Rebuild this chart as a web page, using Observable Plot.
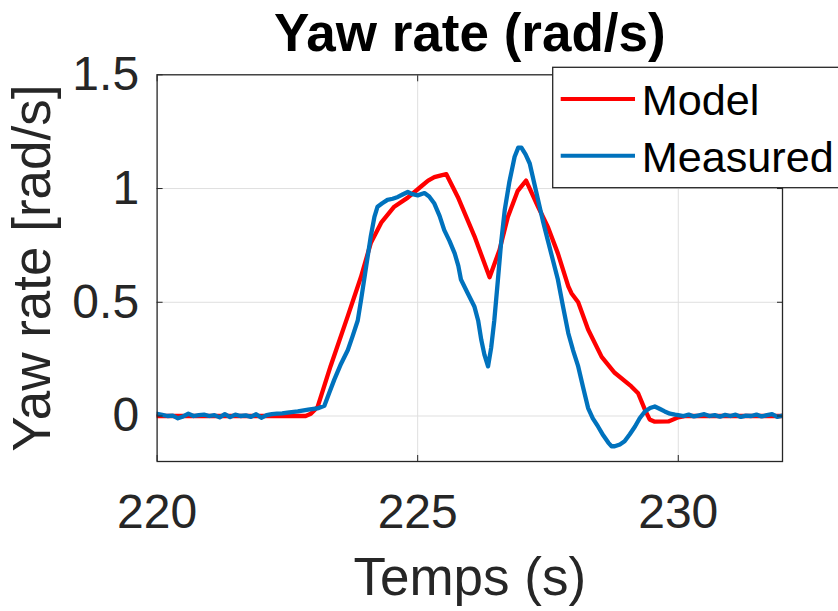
<!DOCTYPE html>
<html><head><meta charset="utf-8">
<script src="https://cdn.jsdelivr.net/npm/d3@7"></script>
<script src="https://cdn.jsdelivr.net/npm/@observablehq/plot@0.6"></script>
<style>
html,body{margin:0;padding:0;background:#fff;}
#wrap{position:relative;width:838px;height:611px;overflow:hidden;}
#wrap svg.overlay{position:absolute;left:0;top:0;pointer-events:none;}
</style></head><body><div id="wrap"></div>
<script>
// ---- data ----
const titleText = "Yaw rate (rad/s)";
const xLabel = "Temps (s)";
const yLabel = "Yaw rate [rad/s]";
const xDomain = [220, 232];
const yDomain = [-0.2, 1.5];
const xTicks = [220, 225, 230];
const xTickLabels = ["220", "225", "230"];
const yTicks = [0, 0.5, 1, 1.5];
const yTickLabels = ["0", "0.5", "1", "1.5"];
const seriesNames = ["Model", "Measured"];
const seriesColors = ["#ff0000", "#0072bd"];

const modelT = [220, 222.85, 222.95, 223.08, 223.33, 223.66, 223.91, 224.10, 224.30, 224.55, 224.81, 225.07, 225.2, 225.32, 225.45, 225.55, 225.77, 226.09, 226.38, 226.57, 226.73, 226.92, 227.08, 227.31, 227.50, 227.69, 227.89, 227.95, 228.08, 228.27, 228.53, 228.78, 229.10, 229.23, 229.36, 229.45, 229.55, 229.81, 230.0, 230.15, 232];
const modelV = [0, 0, 0.01, 0.04, 0.22, 0.44, 0.61, 0.76, 0.85, 0.92, 0.96, 1.01, 1.035, 1.05, 1.058, 1.063, 0.963, 0.79, 0.61, 0.73, 0.875, 0.99, 1.035, 0.92, 0.83, 0.715, 0.57, 0.54, 0.50, 0.38, 0.26, 0.19, 0.13, 0.10, 0.028, -0.015, -0.025, -0.024, -0.006, 0, 0];

const measuredT = [220.0, 220.1, 220.2, 220.3, 220.4, 220.5, 220.6, 220.7, 220.8, 220.9, 221.0, 221.1, 221.2, 221.3, 221.4, 221.5, 221.6, 221.7, 221.8, 221.9, 222.0, 222.1, 222.2, 222.3, 222.4, 222.5,
  222.7, 222.9, 223.1, 223.21, 223.30, 223.40, 223.53, 223.66, 223.75, 223.85, 223.92, 223.98, 224.04, 224.10, 224.17, 224.23, 224.32, 224.42, 224.52, 224.62, 224.72, 224.81, 224.9, 225.0, 225.13, 225.22, 225.32, 225.42, 225.51, 225.61, 225.71, 225.78, 225.83, 225.96, 226.09, 226.16, 226.22, 226.28, 226.35, 226.41, 226.47, 226.54, 226.60, 226.67, 226.76, 226.86, 226.93, 226.99, 227.07, 227.15, 227.23, 227.31, 227.40, 227.50, 227.60, 227.69, 227.79, 227.89, 227.98, 228.08, 228.17, 228.27, 228.36, 228.46, 228.56, 228.66, 228.72, 228.78, 228.88, 228.97, 229.07, 229.17, 229.26, 229.36, 229.46, 229.55, 229.64, 229.74, 229.84, 229.94,
  230.0, 230.1, 230.2, 230.3, 230.4, 230.5, 230.6, 230.7, 230.8, 230.9, 231.0, 231.1, 231.2, 231.3, 231.4, 231.5, 231.6, 231.7, 231.8, 231.9, 232.0];
const measuredV = [0.01, 0.005, 0.0, 0.002, -0.01, -0.002, 0.01, 0.0, 0.004, 0.006, 0.0, 0.004, -0.006, 0.008, -0.005, 0.006, 0.0, 0.003, -0.004, 0.008, -0.008, 0.004, 0.008, 0.01, 0.012, 0.015,
  0.02, 0.028, 0.035, 0.045, 0.10, 0.16, 0.23, 0.29, 0.35, 0.42, 0.52, 0.61, 0.70, 0.79, 0.875, 0.92, 0.935, 0.95, 0.955, 0.963, 0.975, 0.985, 0.975, 0.97, 0.98, 0.965, 0.934, 0.88, 0.817, 0.77, 0.715, 0.66, 0.60, 0.54, 0.48, 0.42, 0.335, 0.27, 0.218, 0.30, 0.42, 0.60, 0.76, 0.905, 1.03, 1.14, 1.18, 1.18, 1.15, 1.11, 1.03, 0.95, 0.86, 0.77, 0.68, 0.60, 0.48, 0.364, 0.29, 0.218, 0.13, 0.035, -0.01, -0.046, -0.085, -0.118, -0.133, -0.133, -0.125, -0.111, -0.08, -0.046, -0.01, 0.02, 0.035, 0.042, 0.032, 0.02, 0.01, 0.006,
  0.004, 0.0, 0.006, -0.002, 0.003, 0.008, 0.0, 0.004, -0.003, 0.005, 0.0, 0.006, -0.004, 0.002, 0.0, 0.006, -0.002, 0.004, 0.008, -0.004, 0.002];

// ---- build table ----
const rows = [
  ...modelT.map((t, i) => ({series: seriesNames[0], t, v: modelV[i]})),
  ...measuredT.map((t, i) => ({series: seriesNames[1], t, v: measuredV[i]}))
];

const font = "'Liberation Sans', Arial, Helvetica, sans-serif";
const W = 838, H = 611;

const chart = Plot.plot({
  width: W, height: H,
  marginLeft: 156.6, marginRight: 56, marginTop: 74.3, marginBottom: 150,
  style: {fontFamily: font, color: "#262626", background: "#fff", overflow: "visible"},
  x: {domain: xDomain, label: null},
  y: {domain: yDomain, label: null},
  color: {domain: seriesNames, range: seriesColors},
  marks: [
    Plot.gridX(xTicks.slice(1), {stroke: "#dfdfdf", strokeOpacity: 1, strokeWidth: 1}),
    Plot.gridY(yTicks.slice(0, 3), {stroke: "#dfdfdf", strokeOpacity: 1, strokeWidth: 1}),
    Plot.line(rows, {x: "t", y: "v", z: "series", stroke: "series", strokeWidth: 4.3, clip: true, strokeLinejoin: "round"}),
    Plot.axisX({anchor: "bottom", ticks: xTicks, tickSize: 6, dy: -6, tickFormat: () => "", label: null, stroke: "#262626"}),
    Plot.axisX({anchor: "top", ticks: xTicks, tickSize: 6, dy: 6, tickFormat: () => "", label: null, stroke: "#262626"}),
    Plot.axisY({anchor: "left", ticks: yTicks, tickSize: 6, dx: 6, tickFormat: () => "", label: null, stroke: "#262626"}),
    Plot.axisY({anchor: "right", ticks: yTicks, tickSize: 6, dx: -6, tickFormat: () => "", label: null, stroke: "#262626"}),
    Plot.axisX({anchor: "bottom", ticks: xTicks, tickSize: 0, tickPadding: 32, fontSize: 48, label: null,
      tickFormat: d => xTickLabels[xTicks.indexOf(d)], fill: "#262626"}),
    Plot.axisY({anchor: "left", ticks: yTicks, tickSize: 0, tickPadding: 18, fontSize: 48, label: null,
      tickFormat: d => yTickLabels[yTicks.indexOf(d)], fill: "#262626"}),
    Plot.frame({stroke: "#262626", strokeWidth: 1.3}),
    Plot.text([xLabel], {frameAnchor: "bottom", textAnchor: "middle", lineAnchor: "middle", dy: 117, fontSize: 53, fill: "#262626"}),
    Plot.text([yLabel], {frameAnchor: "left", textAnchor: "middle", lineAnchor: "middle", rotate: -90, dx: -123.6, fontSize: 53, fill: "#262626"}),
    Plot.text([titleText], {frameAnchor: "top", textAnchor: "middle", lineAnchor: "middle", dy: -41, fontSize: 53, fontWeight: "bold", fill: "#000"})
  ]
});
const wrap = document.getElementById("wrap");
wrap.appendChild(chart);

// ---- legend overlay ----
const lg = d3.select(wrap).append("svg").attr("class", "overlay").attr("width", W).attr("height", H);
lg.append("rect").attr("x", 552.7).attr("y", 67.3).attr("width", 300).attr("height", 120.4)
  .attr("fill", "#fff").attr("stroke", "#262626").attr("stroke-width", 1.3);
seriesNames.forEach((name, i) => {
  const yLine = 99 + i * 56.7;
  lg.append("line").attr("x1", 560.7).attr("x2", 635).attr("y1", yLine).attr("y2", yLine)
    .attr("stroke", seriesColors[i]).attr("stroke-width", 4);
  lg.append("text").attr("x", 641.7).attr("y", 115 + i * 56.7).attr("font-family", font)
    .attr("font-size", 43.2).attr("fill", "#000").text(name);
});
</script></body></html>
